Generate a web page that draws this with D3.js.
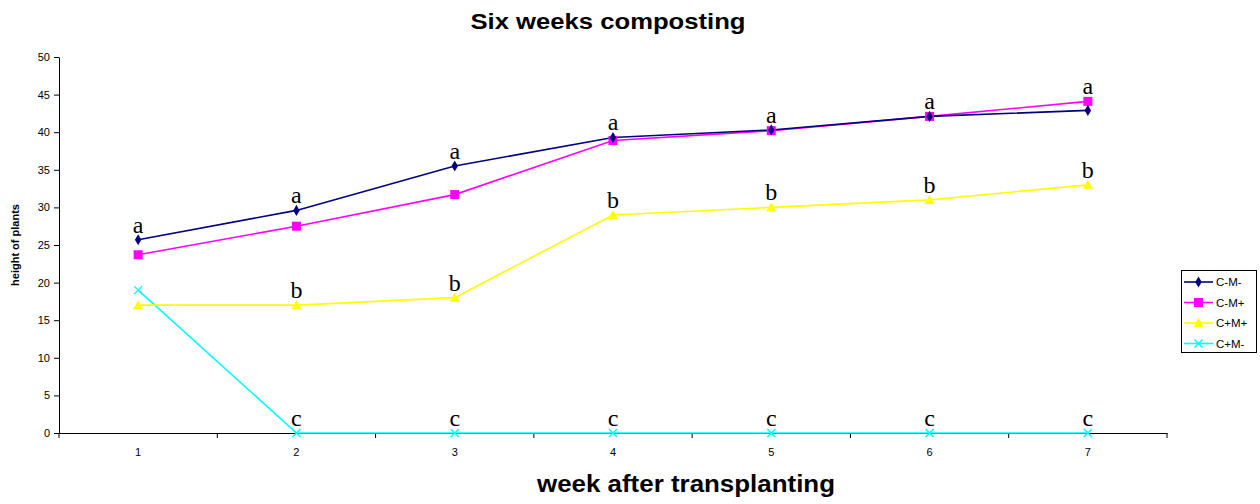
<!DOCTYPE html>
<html><head><meta charset="utf-8">
<script src="https://cdn.jsdelivr.net/npm/d3@7"></script>
<style>body{margin:0;background:#fff}svg{display:block}</style>
</head><body><svg id="c" width="1260" height="504" font-family="Arial, 'Liberation Sans', sans-serif"></svg>
<script>
const weeks = ["1","2","3","4","5","6","7"];
const seriesNames = ["C-M-","C-M+","C+M+","C+M-"];
const cmMinus = [25.7, 29.6, 35.5, 39.3, 40.3, 42.1, 42.9];
const cmPlus = [23.7, 27.5, 31.7, 38.9, 40.2, 42.1, 44.1];
const cpmPlus = [17.0, 17.0, 18.0, 29.0, 30.0, 31.0, 33.0];
const cpmMinus = [19.0, 0, 0, 0, 0, 0, 0];
const yTicks = [0,5,10,15,20,25,30,35,40,45,50];
// significance letters: week index, value they sit on, letter
const letterWeeks = [0,1,2,3,4,5,6, 1,2,3,4,5,6, 1,2,3,4,5,6];
const letterText = ["a","a","a","a","a","a","a", "b","b","b","b","b","b", "c","c","c","c","c","c"];
const letterOnValue = [25.7,29.6,35.5,39.3,40.3,42.1,44.1, 17.0,18.0,29.0,30.0,31.0,33.0, 0,0,0,0,0,0];

const colors = ["#000080","#FF00FF","#FFFF00","#00FFFF"];
const data = [cmMinus, cmPlus, cpmPlus, cpmMinus];
const svg = d3.select("#c");
const L = 59, R = 1167, T = 57, B = 433;
const x = d3.scaleBand().domain(weeks).range([L, R]);
const y = d3.scaleLinear().domain([0,50]).range([B, T]);

// y axis
const ya = svg.append("g").attr("transform",`translate(${L},0)`)
  .call(d3.axisLeft(y).tickValues(yTicks).tickSize(5).tickSizeOuter(0));
ya.select(".domain").attr("stroke","#000");
ya.selectAll("text").attr("font-size",11).attr("font-family","Arial, 'Liberation Sans'").attr("dx",-1);
// x axis
const xa = svg.append("g").attr("transform",`translate(0,${B})`)
  .call(d3.axisBottom(x).tickSize(0).tickPadding(15));
xa.select(".domain").attr("stroke","#000");
xa.selectAll("text").attr("font-size",11).attr("font-family","Arial, 'Liberation Sans'");
svg.append("g").selectAll("line").data(weeks).join("line")
  .attr("x1",d=>x(d) + x.bandwidth()).attr("x2",d=>x(d) + x.bandwidth())
  .attr("y1",B).attr("y2",B+5).attr("stroke","#000");
svg.append("line").attr("x1",L).attr("x2",L).attr("y1",B).attr("y2",B+5).attr("stroke","#000");

const cx = i => x(weeks[i]) + x.bandwidth()/2;
const line = d3.line().x((d,i)=>cx(i)).y(d=>y(d));

[3,2,1,0].forEach(s=>{
  svg.append("path").datum(data[s]).attr("d",line).attr("fill","none")
    .attr("stroke",colors[s]).attr("stroke-width",1.6);
});
function marker(g, s, px, py){
  const c = colors[s];
  if(s===0) g.append("path").attr("d",d3.symbol(d3.symbolDiamond,36)()).attr("transform",`translate(${px},${py})`).attr("fill",c);
  else if(s===1) g.append("rect").attr("x",px-4.5).attr("y",py-4.5).attr("width",9).attr("height",9).attr("fill",c);
  else if(s===2) g.append("path").attr("d",`M${px},${py-5}L${px+5},${py+4}L${px-5},${py+4}Z`).attr("fill",c);
  else g.append("path").attr("d",`M${px-4},${py-4}L${px+4},${py+4}M${px-4},${py+4}L${px+4},${py-4}`).attr("stroke",c).attr("stroke-width",1.4);
}
const mg = svg.append("g");
[3,2,1,0].forEach(s=>data[s].forEach((v,i)=>marker(mg,s,cx(i),y(v))));

// letters
svg.append("g").selectAll("text").data(letterText).join("text")
  .attr("x",(d,i)=>cx(letterWeeks[i])).attr("y",(d,i)=>y(letterOnValue[i]) - 7)
  .attr("text-anchor","middle").style("font-family","'Liberation Serif','Times New Roman',serif")
  .attr("font-size",24).attr("fill","#000").text(d=>d);

// titles
svg.append("text").attr("x",608).attr("y",29).attr("text-anchor","middle")
  .attr("font-weight","bold").attr("font-size",22)
  .attr("textLength",275).attr("lengthAdjust","spacingAndGlyphs").text("Six weeks composting");
svg.append("text").attr("x",686).attr("y",492).attr("text-anchor","middle")
  .attr("font-weight","bold").attr("font-size",23.5)
  .attr("textLength",298).attr("lengthAdjust","spacingAndGlyphs").text("week after transplanting");
svg.append("text").attr("transform","translate(19,245) rotate(-90)").attr("text-anchor","middle")
  .attr("font-weight","bold").attr("font-size",11).text("height of plants");

// legend
const lg = svg.append("g");
lg.append("rect").attr("x",1181.5).attr("y",270.5).attr("width",75).attr("height",82)
  .attr("fill","#fff").attr("stroke","#000");
seriesNames.forEach((n,s)=>{
  const ly = 282 + s*20.5;
  lg.append("line").attr("x1",1184).attr("x2",1213).attr("y1",ly).attr("y2",ly).attr("stroke",colors[s]).attr("stroke-width",1.6);
  marker(lg,s,1198.5,ly);
  lg.append("text").attr("x",1216).attr("y",ly+4).attr("font-size",11.5).text(n);
});
</script></body></html>
